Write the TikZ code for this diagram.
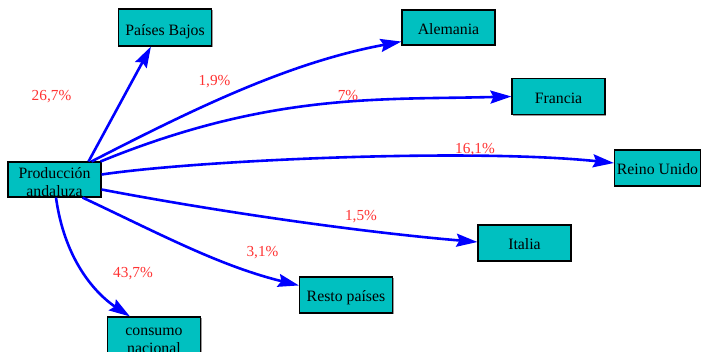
\documentclass[tikz,border=0pt]{standalone}
\usepackage{fontspec}
\setmainfont{Liberation Serif}
\usetikzlibrary{arrows.meta,shadows}
\definecolor{boxc}{RGB}{0,192,192}
\definecolor{labc}{RGB}{255,51,51}
\begin{document}
\begin{tikzpicture}[x=1pt,y=-1pt,
  box/.style={draw=black, line width=1.1pt, fill=boxc, minimum width=93pt,
    minimum height=36pt, inner sep=0pt, font=\fontsize{15.8}{18}\selectfont,
    text height=13pt, text depth=0pt,
    drop shadow={shadow xshift=1.3pt, shadow yshift=-1.3pt, fill=black!40, opacity=1}},
  flow/.style={draw=blue, line width=2.6pt, -{Stealth[length=21pt,width=13pt,inset=3pt]}},
  pct/.style={text=labc, font=\fontsize{15.3}{18}\selectfont, inner sep=0pt}]
\useasboundingbox (0,0) rectangle (701,351);
% boxes
\node[box, minimum height=35pt, text height=33pt] (pa) at (54.5,179.5)
  {\begin{tabular}[b]{@{}c@{}}Producción\\andaluza\end{tabular}};
\node[box, minimum height=37pt, text height=15pt] (pb) at (165,27.5) {Países Bajos};
\node[box, minimum height=35pt] (al) at (448.5,27.5) {Alemania};
\node[box] (fr) at (558.5,96.5) {Francia};
\node[box, minimum width=86pt] (ru) at (657.5,168) {Reino Unido};
\node[box] (it) at (524.5,243) {Italia};
\node[box] (rp) at (346,295) {Resto países};
\node[box, text height=36pt] (cn) at (154,335)
  {\begin{tabular}[b]{@{}c@{}}consumo\\nacional\end{tabular}};
% connectors
\draw[flow] ([xshift=-13pt]pa.north east) -- ([xshift=33pt]pb.south west);
\draw[flow] ([xshift=-10pt]pa.north east) .. controls (201,105) and (292,62) .. ([yshift=4pt]al.south west);
\draw[flow] ([xshift=-1pt]pa.north east) .. controls (271,92) and (381,100) .. (fr.west);
\draw[flow] ([yshift=5pt]pa.east) .. controls (200,160) and (470,148) .. ([yshift=5pt]ru.west);
\draw[flow] ([yshift=-10pt]pa.east) .. controls (220,212) and (360,232) .. ([yshift=1pt]it.west);
\draw[flow] ([xshift=-19pt]pa.south east) .. controls (162,235) and (220,266) .. ([yshift=-9pt]rp.north west);
\draw[flow] ([xshift=1.5pt]pa.south) .. controls (66,270) and (105,300) .. ([xshift=23pt]cn.north west);
% percentages
\node[pct] (l1) at (51.5,97) {26,7\%};
\node[pct] (l2) at (214.5,82) {1,9\%};
\node[pct] (l3) at (348,96) {7\%};
\node[pct] (l4) at (475,150) {16,1\%};
\node[pct] (l5) at (361,217) {1,5\%};
\node[pct] (l6) at (262.5,253) {3,1\%};
\node[pct] (l7) at (133,274) {43,7\%};
\end{tikzpicture}
\end{document}
